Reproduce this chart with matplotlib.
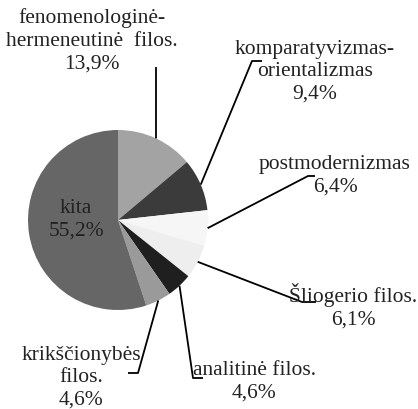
import matplotlib
matplotlib.use("Agg")
import numpy as np
import matplotlib.pyplot as plt

# data
labels = ["fenomenologinė-\nhermeneutinė  filos.", "komparatyvizmas-\norientalizmas",
          "postmodernizmas", "Šliogerio filos.", "analitinė filos.",
          "krikščionybės\nfilos.", "kita"]
shares = [13.9, 9.4, 6.4, 6.1, 4.6, 4.6, 55.2]
colors = ["#a3a3a3", "#3b3b3b", "#f6f6f6", "#eeeeee", "#1f1f1f", "#9a9a9a", "#666666"]

W, H = 418, 410
cx, cy, r = 118, H - 221, 90

# label text centres and leader elbows (pixel coords, y from top)
text_pos = [(92, 41), (315, 72), (335, 176), (353, 306), (254, 382), (81, 378), (76, 220)]
elbows = [[(156, 68)], [(252, 62), (262, 62)], [(308, 177), (315, 177)],
          [(302, 303), (316, 303)], [(193, 379), (203, 379)], [(138, 374), (128, 374)], None]

plt.rcParams['font.family'] = ['Liberation Serif', 'DejaVu Serif']

fig = plt.figure(figsize=(W / 100, H / 100), dpi=100)
ax = fig.add_axes([0, 0, 1, 1])

wedges, _ = ax.pie(shares, colors=colors, startangle=90, counterclock=False,
                   center=(cx, cy), radius=r, wedgeprops=dict(linewidth=0))
ax.set_xlim(0, W)
ax.set_ylim(0, H)
ax.set_aspect('equal')
ax.axis('off')

for w, lab, val, (tx, ty), elb in zip(wedges, labels, shares, text_pos, elbows):
    ax.text(tx, H - ty, lab + "\n" + f"{val:.1f}%".replace(".", ","),
            ha='center', va='center', fontsize=15.5, color='#222222', linespacing=1.25)
    if elb is None:
        continue
    ang = np.deg2rad((w.theta1 + w.theta2) / 2)
    xs = [cx + r * np.cos(ang)] + [p[0] for p in elb]
    ys = [cy + r * np.sin(ang)] + [H - p[1] for p in elb]
    ax.plot(xs, ys, color='black', lw=1.3, solid_capstyle='butt')

fig.savefig("out.png", dpi=100)
